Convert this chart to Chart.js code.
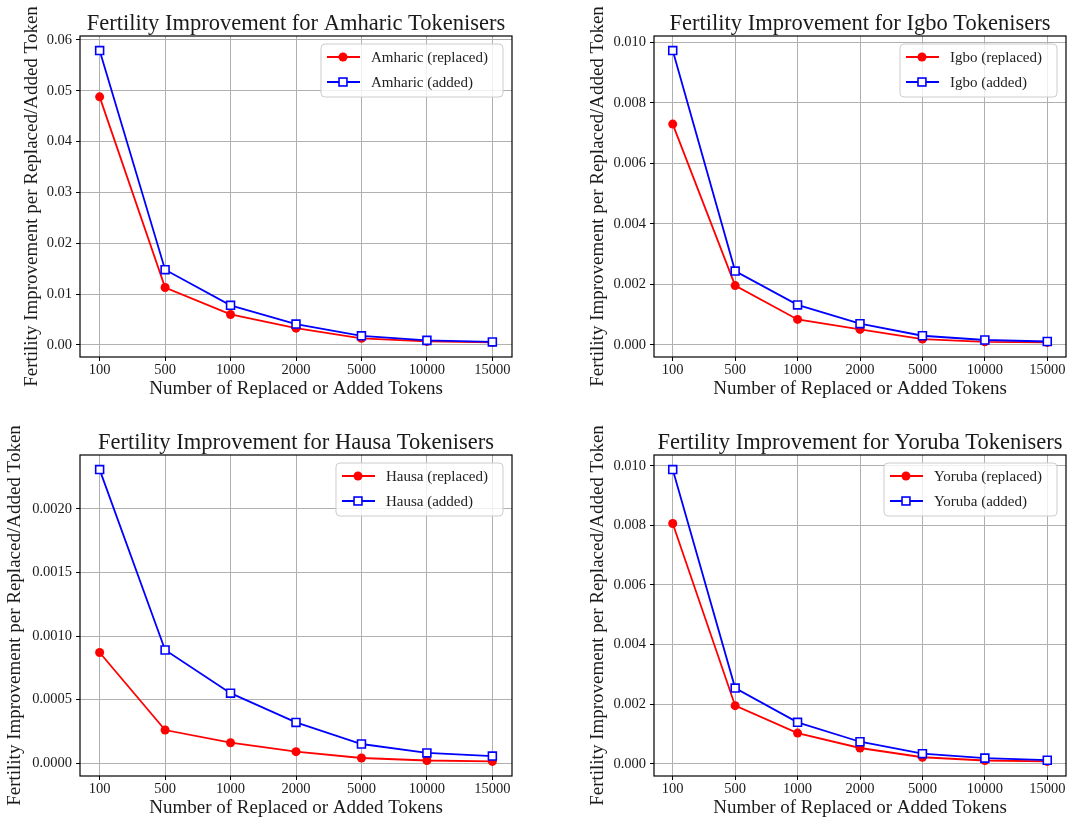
<!DOCTYPE html>
<html>
<head>
<meta charset="utf-8">
<title>Fertility Improvement per Replaced/Added Token</title>
<script src="https://cdn.jsdelivr.net/npm/chart.js@4.4.1/dist/chart.umd.min.js"></script>
<style>
  body { margin: 0; background: #fff; }
  canvas { position: absolute; }
</style>
</head>
<body>
<canvas id="amharicChart" width="545" height="404" style="left:0;top:0"></canvas>
<canvas id="igboChart" width="546" height="404" style="left:545px;top:0"></canvas>
<canvas id="hausaChart" width="545" height="404" style="left:0;top:419px"></canvas>
<canvas id="yorubaChart" width="546" height="404" style="left:545px;top:419px"></canvas>
<script>
// vocabulary sizes on the x axis (evenly spaced, not to scale)
const tokenCounts = ["100", "500", "1000", "2000", "5000", "10000", "15000"];

// fertility improvement per replaced / added token
const amharicReplaced = [0.0488, 0.0113, 0.0060, 0.0033, 0.0013, 0.0007, 0.0005];
const amharicAdded = [0.0579, 0.0148, 0.0078, 0.0041, 0.0018, 0.0009, 0.0006];
const igboReplaced = [0.0073, 0.00196, 0.00084, 0.00051, 0.00019, 0.0001, 0.00008];
const igboAdded = [0.00973, 0.00244, 0.00132, 0.0007, 0.0003, 0.00016, 0.00011];
const hausaReplaced = [0.00087, 0.00026, 0.00016, 0.00009, 0.00004, 0.00002, 0.000013];
const hausaAdded = [0.00231, 0.00089, 0.00055, 0.00032, 0.00015, 0.00008, 0.000055];
const yorubaReplaced = [0.00806, 0.00195, 0.00103, 0.00053, 0.00022, 0.00011, 0.00008];
const yorubaAdded = [0.00987, 0.00254, 0.00139, 0.00074, 0.00034, 0.00019, 0.00012];

// y tick values per language
const amharicTicks = [0, 0.01, 0.02, 0.03, 0.04, 0.05, 0.06];
const igboTicks = [0, 0.002, 0.004, 0.006, 0.008, 0.010];
const hausaTicks = [0, 0.0005, 0.001, 0.0015, 0.002];
const yorubaTicks = [0, 0.002, 0.004, 0.006, 0.008, 0.010];

const serif = '"Liberation Serif", "DejaVu Serif", serif';
const textColor = "#1a1a1a";
const yAxisTitle = "Fertility Improvement per Replaced/Added Token";
const xAxisTitle = "Number of Replaced or Added Tokens";

Chart.defaults.font.family = serif;

// matplotlib-style 5% margin around the data
function paddedRange(a, b) {
  const all = a.concat(b);
  const lo = Math.min(...all);
  const hi = Math.max(...all);
  const m = (hi - lo) * 0.05;
  return [lo - m, hi + m];
}

// frame, title, rotated y label and boxed legend
const panelDecor = {
  id: "panelDecor",
  afterDatasetsDraw(chart, args, opts) {
    const { ctx, chartArea: a } = chart;
    ctx.save();

    ctx.strokeStyle = "#000";
    ctx.lineWidth = 1.2;
    ctx.strokeRect(a.left, a.top, a.right - a.left, a.bottom - a.top);

    // legend box in the upper right corner
    ctx.font = `15px ${serif}`;
    const sets = chart.data.datasets;
    const textW = Math.max(...sets.map((d) => ctx.measureText(d.label).width));
    const boxW = textW + 65;
    const boxH = 53;
    const bx = a.right - 9 - boxW;
    const by = a.top + 8;
    ctx.beginPath();
    ctx.roundRect(bx, by, boxW, boxH, 4);
    ctx.fillStyle = "rgba(255,255,255,0.8)";
    ctx.fill();
    ctx.strokeStyle = "#cccccc";
    ctx.lineWidth = 1;
    ctx.stroke();

    sets.forEach((d, i) => {
      const y = by + 13 + i * 25;
      ctx.strokeStyle = d.borderColor;
      ctx.lineWidth = d.borderWidth;
      ctx.beginPath();
      ctx.moveTo(bx + 6, y);
      ctx.lineTo(bx + 39, y);
      ctx.stroke();
      if (d.pointStyle === "circle") {
        ctx.fillStyle = d.borderColor;
        ctx.beginPath();
        ctx.arc(bx + 22, y, d.pointRadius, 0, Math.PI * 2);
        ctx.fill();
      } else {
        const s = d.pointRadius * Math.SQRT1_2;
        ctx.fillStyle = d.backgroundColor;
        ctx.lineWidth = d.pointBorderWidth;
        ctx.fillRect(bx + 22 - s, y - s, 2 * s, 2 * s);
        ctx.strokeRect(bx + 22 - s, y - s, 2 * s, 2 * s);
      }
      ctx.fillStyle = "#222";
      ctx.textAlign = "left";
      ctx.textBaseline = "middle";
      ctx.fillText(d.label, bx + 50, y + 1);
    });

    // plot title
    ctx.fillStyle = textColor;
    ctx.font = `22.5px ${serif}`;
    ctx.textAlign = "center";
    ctx.textBaseline = "alphabetic";
    ctx.fillText(opts.title, (a.left + a.right) / 2, a.top - 6);

    // y axis title, allowed to run past the axes
    ctx.translate(opts.yTitleX, (a.top + a.bottom) / 2);
    ctx.rotate(-Math.PI / 2);
    ctx.font = `19px ${serif}`;
    ctx.textBaseline = "middle";
    ctx.fillText(yAxisTitle, 0, 0);
    ctx.restore();
  },
};

function makePanel(canvasId, language, replaced, added, ticks, decimals, axisWidth, padRight, yTitleX) {
  const [yMin, yMax] = paddedRange(replaced, added);
  const tickFont = { family: serif, size: 14.5, lineHeight: 1 };
  const grid = {
    color: "#b0b0b0",
    lineWidth: 1,
    drawTicks: true,
    tickLength: 4,
    tickColor: "#000",
    tickWidth: 1,
  };

  return new Chart(document.getElementById(canvasId), {
    type: "line",
    data: {
      datasets: [
        {
          label: `${language} (replaced)`,
          data: replaced.map((v, i) => ({ x: i, y: v })),
          borderColor: "#ff0000",
          backgroundColor: "#ff0000",
          borderWidth: 1.8,
          pointStyle: "circle",
          pointRadius: 4.5,
          pointBorderWidth: 0,
          tension: 0,
          order: 1,
        },
        {
          label: `${language} (added)`,
          data: added.map((v, i) => ({ x: i, y: v })),
          borderColor: "#0000ff",
          backgroundColor: "#ffffff",
          borderWidth: 1.8,
          pointStyle: "rect",
          pointRadius: 5.6,
          pointBorderWidth: 1.6,
          tension: 0,
          order: 0,
        },
      ],
    },
    options: {
      responsive: false,
      animation: false,
      layout: { padding: { left: 0, top: 36, right: padRight, bottom: 0 } },
      plugins: {
        legend: { display: false },
        tooltip: { enabled: false },
        title: { display: false },
        panelDecor: { title: `Fertility Improvement for ${language} Tokenisers`, yTitleX },
      },
      scales: {
        x: {
          type: "linear",
          min: -0.3,
          max: 6.3,
          afterFit: (s) => { s.height = 47; },
          afterBuildTicks: (s) => { s.ticks = tokenCounts.map((_, i) => ({ value: i })); },
          ticks: {
            callback: (v) => tokenCounts[v],
            font: tickFont,
            color: textColor,
            padding: 2,
            maxRotation: 0,
            autoSkip: false,
          },
          grid,
          border: { display: false },
          title: {
            display: true,
            text: xAxisTitle,
            color: textColor,
            font: { family: serif, size: 19, lineHeight: 1 },
            padding: { top: 0, bottom: 5.5 },
          },
        },
        y: {
          min: yMin,
          max: yMax,
          afterFit: (s) => { s.width = axisWidth; },
          afterBuildTicks: (s) => { s.ticks = ticks.map((v) => ({ value: v })); },
          ticks: {
            callback: (v) => v.toFixed(decimals),
            font: tickFont,
            color: textColor,
            padding: 4,
          },
          grid,
          border: { display: false },
        },
      },
    },
    plugins: [panelDecor],
  });
}

makePanel("amharicChart", "Amharic", amharicReplaced, amharicAdded, amharicTicks, 2, 80, 33, 32);
makePanel("igboChart", "Igbo", igboReplaced, igboAdded, igboTicks, 3, 109, 25, 53);
makePanel("hausaChart", "Hausa", hausaReplaced, hausaAdded, hausaTicks, 4, 80, 33, 15);
makePanel("yorubaChart", "Yoruba", yorubaReplaced, yorubaAdded, yorubaTicks, 3, 109, 25, 53);
</script>
</body>
</html>
